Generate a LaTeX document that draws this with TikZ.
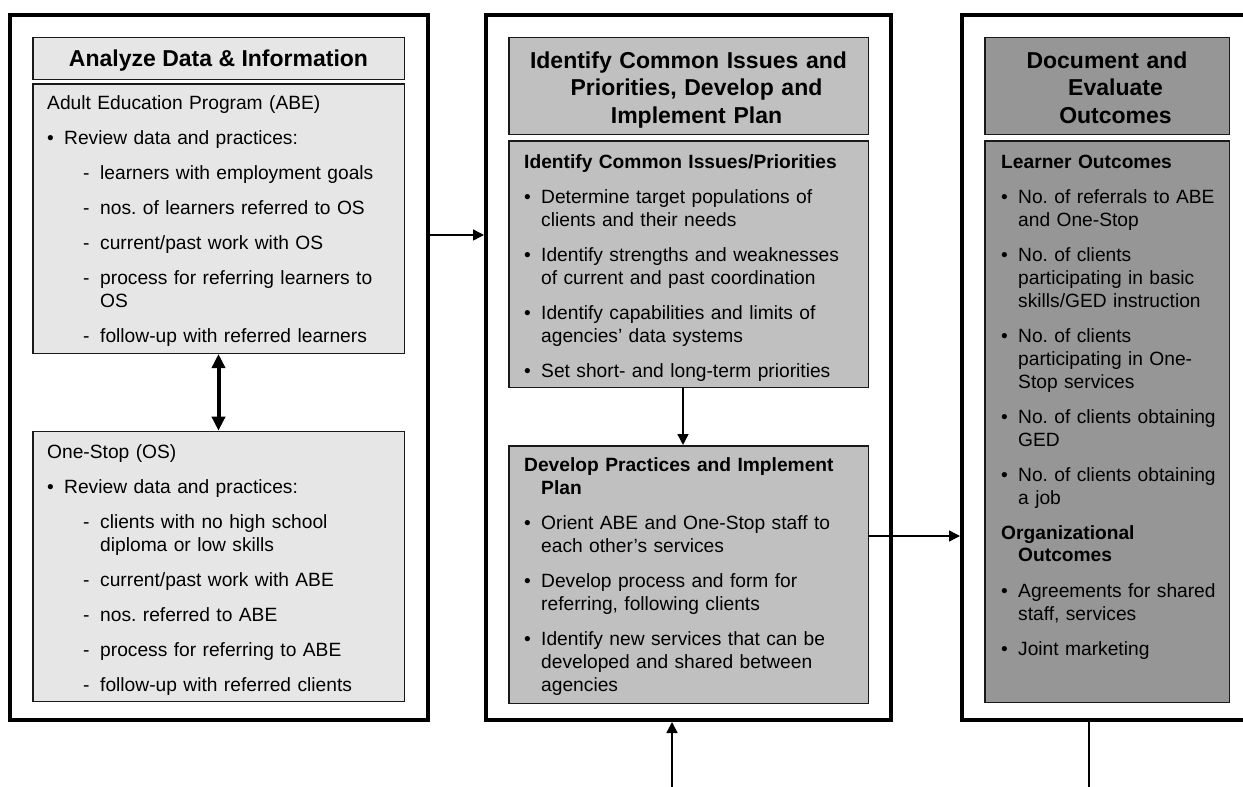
\documentclass[tikz,border=0pt]{standalone}
\usepackage{fontspec}
\setmainfont{Liberation Sans}
\usetikzlibrary{arrows.meta}
\definecolor{gA}{HTML}{E6E6E6}
\definecolor{gB}{HTML}{C0C0C0}
\definecolor{gC}{HTML}{969696}
\frenchspacing
\newcommand\bodyfont{\fontsize{19.2}{23}\selectfont}
\newcommand\hdfont{\fontsize{23}{27.5}\selectfont\bfseries}
\newcommand\fs{\rule{0pt}{15pt}}
\newcommand\hs{\rule{0pt}{17pt}}
\newcommand\pl[1]{\par\noindent #1\par}
\newcommand\hh[1]{\par\noindent\hangindent=17pt\hangafter=1 \textbf{#1}\par}
\newcommand\bl[1]{\par\noindent\hangindent=17pt\hangafter=1 \makebox[17pt][l]{\textbullet}#1\par}
\newcommand\dl[1]{\par\noindent\hangindent=53pt\hangafter=1 \hspace*{36pt}\makebox[17pt][l]{-}#1\par}
\tikzset{
  outerbox/.style={draw=black, line width=4pt, rectangle, anchor=north west, inner sep=0pt},
  ibox/.style={draw=black!90, line width=1.5pt, rectangle, anchor=north west, inner sep=0pt},
  txt/.style={anchor=north west, inner sep=0pt, text width=440pt, font=\bodyfont,
    execute at begin node={\frenchspacing\setlength{\parskip}{12pt}\setlength{\parindent}{0pt}}},
  hdtxt/.style={anchor=north, inner sep=0pt, text width=380pt, align=center, font=\hdfont},
  arr/.style={line width=1.5pt, -{Triangle[length=11pt,width=11pt]}},
  dblarr/.style={line width=4pt, {Triangle[length=14pt,width=13pt]}-{Triangle[length=14pt,width=13pt]}},
  plain/.style={line width=1.5pt}
}
\begin{document}
\begin{tikzpicture}[x=1pt,y=-1pt]
\clip (0,0) rectangle (1243,787);
% outer frames
\node[outerbox, minimum width=418.5pt, minimum height=705.5pt] (outerL) at (7.5,12.5) {};
\node[outerbox, minimum width=405pt, minimum height=705.5pt] (outerM) at (484,12.5) {};
\node[outerbox, minimum width=300pt, minimum height=705.5pt] (outerR) at (960,12.5) {};
% left column
\node[ibox, fill=gA, minimum width=371.5pt, minimum height=41.8pt] (lhdr) at (32,36.7) {};
\node[ibox, fill=gA, minimum width=371.5pt, minimum height=269.2pt] (abe) at (32,83.3) {};
\node[ibox, fill=gA, minimum width=371.5pt, minimum height=269.8pt] (os) at (32,430.7) {};
% middle column
\node[ibox, fill=gB, minimum width=359.5pt, minimum height=96.8pt] (mhdr) at (508.3,36.7) {};
\node[ibox, fill=gB, minimum width=359.5pt, minimum height=246.5pt] (ident) at (508.3,140) {};
\node[ibox, fill=gB, minimum width=359.5pt, minimum height=257.5pt] (dev) at (508.3,445) {};
% right column
\node[ibox, fill=gC, minimum width=244.5pt, minimum height=96.8pt] (rhdr) at (984,36.7) {};
\node[ibox, fill=gC, minimum width=244.5pt, minimum height=561.5pt] (learn) at (984,140) {};
% header texts
\node[anchor=base, inner sep=0pt, font=\hdfont] (lhdrt) at (218.5,66.7) {Analyze Data \& Information};
\node[hdtxt] (mhdrt) at (688.5,51.2) {\hs Identify Common Issues and\\\hspace*{16pt}Priorities, Develop and\\\hspace*{16pt}Implement Plan};
\node[hdtxt] (rhdrt) at (1107,51.2) {\hs Document and\\\hspace*{17pt}Evaluate\\\hspace*{17pt}Outcomes};
% body texts
\node[txt] (abet) at (47,74.5) {%
\pl{\fs Adult Education Program (ABE)}
\bl{Review data and practices:}
\dl{learners with employment goals}
\dl{nos. of learners referred to OS}
\dl{current/past work with OS}
\dl{process for referring learners to\newline OS}
\dl{follow-up with referred learners}};
\node[txt] (ost) at (47,422.8) {%
\pl{\fs One-Stop (OS)}
\bl{Review data and practices:}
\dl{clients with no high school\newline diploma or low skills}
\dl{current/past work with ABE}
\dl{nos. referred to ABE}
\dl{process for referring to ABE}
\dl{follow-up with referred clients}};
\node[txt] (identt) at (524,132.8) {%
\hh{\fs Identify Common Issues/Priorities}
\bl{Determine target populations of\newline clients and their needs}
\bl{Identify strengths and weaknesses\newline of current and past coordination}
\bl{Identify capabilities and limits of\newline agencies’ data systems}
\bl{Set short- and long-term priorities}};
\node[txt] (devt) at (524,436.2) {%
\hh{\fs Develop Practices and Implement\newline Plan}
\bl{Orient ABE and One-Stop staff to\newline each other’s services}
\bl{Develop process and form for\newline referring, following clients}
\bl{Identify new services that can be\newline developed and shared between\newline agencies}};
\node[txt] (learnt) at (1001,132.8) {%
\hh{\fs Learner Outcomes}
\bl{No. of referrals to ABE\newline and One-Stop}
\bl{No. of clients\newline participating in basic\newline skills/GED instruction}
\bl{No. of clients\newline participating in One-\newline Stop services}
\bl{No. of clients obtaining\newline GED}
\bl{No. of clients obtaining\newline a job}
\hh{Organizational\newline Outcomes}
\bl{Agreements for shared\newline staff, services}
\bl{Joint marketing}};
% connectors
\coordinate (ya) at (0,235);
\coordinate (yb) at (0,536);
\coordinate (xa) at (683,0);
\coordinate (b1) at (672,787);
\coordinate (b2) at (1089,787);
\draw[dblarr] (abe.south) -- (os.north);
\draw[arr] (outerL.east |- ya) -- (outerM.west |- ya);
\draw[arr] (ident.south -| xa) -- (dev.north -| xa);
\draw[arr] (dev.east |- yb) -- (outerR.west |- yb);
\draw[arr] (b1) -- (b1 |- outerM.south);
\draw[plain] (b2 |- outerR.south) -- (b2);
\end{tikzpicture}
\end{document}
